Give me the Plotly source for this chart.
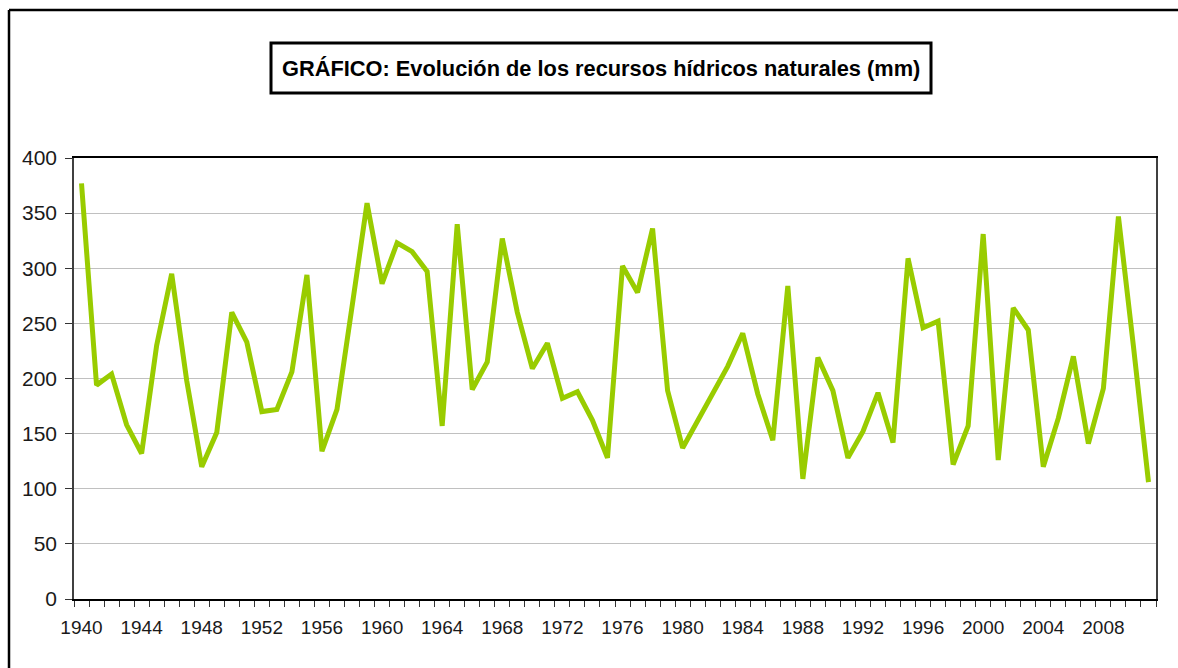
import plotly.graph_objects as go

years = list(range(1940, 2012))
recursos_mm = [
    377, 194, 204, 158, 132, 230, 295, 198, 120, 151,
    260, 233, 170, 172, 206, 294, 134, 172, 265, 359,
    286, 323, 315, 297, 157, 340, 190, 215, 327, 260,
    209, 232, 182, 188, 162, 128, 302, 278, 336, 189,
    137, 162, 186, 211, 241, 186, 144, 284, 109, 219,
    189, 128, 152, 187, 142, 309, 246, 252, 122, 157,
    331, 126, 264, 244, 120, 164, 220, 141, 191, 347,
    229, 106,
]
x_tick_labels = [1940, 1944, 1948, 1952, 1956, 1960, 1964, 1968, 1972,
                 1976, 1980, 1984, 1988, 1992, 1996, 2000, 2004, 2008]
y_ticks = [0, 50, 100, 150, 200, 250, 300, 350, 400]
title_text = "GRÁFICO: Evolución de los recursos hídricos naturales (mm)"

FONT = "Arial, 'Liberation Sans', sans-serif"

fig = go.Figure()
fig.add_trace(go.Scatter(
    x=years, y=recursos_mm, mode="lines",
    line=dict(color="#99cc00", width=5),
    hoverinfo="x+y", showlegend=False,
))

L, R, T, B = 74, 22, 158, 69
W, H = 1178, 668
pw, ph = W - L - R, H - T - B

def px(x):
    return (x - L) / pw

def py(y):
    return (H - B - y) / ph

fig.update_layout(
    width=W, height=H,
    margin=dict(l=L, r=R, t=T, b=B, pad=0),
    paper_bgcolor="white", plot_bgcolor="white",
    font=dict(family=FONT, color="#1a1a1a"),
    xaxis=dict(
        range=[1939.5, 2011.5],
        tickmode="array", tickvals=x_tick_labels,
        ticktext=[str(v) for v in x_tick_labels],
        ticks="", ticklabelstandoff=10,
        tickfont=dict(size=19, family=FONT, color="#1a1a1a"),
        showgrid=False, zeroline=False,
        showline=True, linecolor="black", linewidth=1.5, mirror=True,
        minor=dict(tickmode="linear", tick0=1939.5, dtick=1,
                   ticks="outside", ticklen=6, tickcolor="#333", tickwidth=1,
                   showgrid=False),
    ),
    yaxis=dict(
        range=[0, 400], tickmode="array", tickvals=y_ticks,
        ticks="outside", ticklen=7, tickcolor="#333",
        ticklabelstandoff=4,
        tickfont=dict(size=21, family=FONT, color="#1a1a1a"),
        showgrid=True, gridcolor="#c0c0c0", gridwidth=1,
        zeroline=False,
        showline=True, linecolor="#404040", linewidth=1.5, mirror=True,
    ),
    shapes=[
        # outer chart frame (top and left edges)
        dict(type="line", xref="paper", yref="paper",
             x0=px(9), x1=px(1180), y0=py(10), y1=py(10),
             line=dict(color="black", width=2.5)),
        dict(type="line", xref="paper", yref="paper",
             x0=px(9), x1=px(9), y0=py(10), y1=py(670),
             line=dict(color="black", width=2.5)),
        # title box
        dict(type="rect", xref="paper", yref="paper",
             x0=px(271), x1=px(931), y0=py(93), y1=py(43),
             line=dict(color="black", width=3), fillcolor="white"),
    ],
    annotations=[
        dict(text="<b>" + title_text + "</b>", xref="paper", yref="paper",
             x=px(601), y=py(68), xanchor="center", yanchor="middle",
             showarrow=False,
             font=dict(size=21.8, family=FONT, color="black")),
    ],
)

fig.write_html(
    "out.html",
    config={"displayModeBar": False},
    post_script="document.body.style.margin='0';document.body.style.overflow='hidden';",
)
